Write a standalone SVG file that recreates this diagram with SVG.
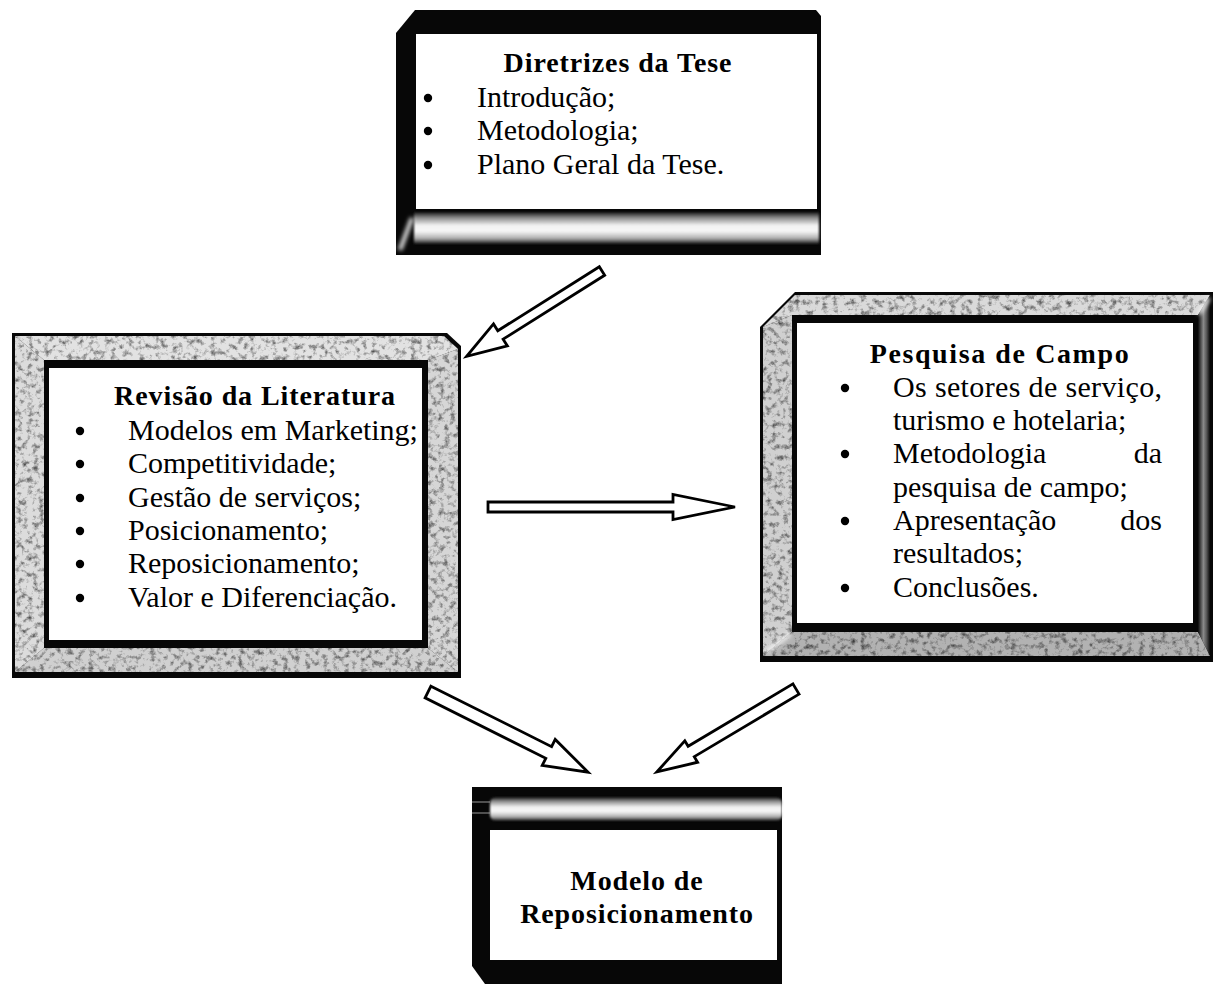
<svg xmlns="http://www.w3.org/2000/svg" width="1217" height="984" viewBox="0 0 1217 984">
  <style>
    .h { font-family: "Liberation Serif", "Times New Roman", serif; font-weight: bold; font-size: 28px; letter-spacing: 0.9px; text-anchor: middle; fill: #000; }
    .b { font-family: "Liberation Serif", "Times New Roman", serif; font-size: 30px; fill: #000; }
    .dot { fill: #000; }
    .frame { fill: #070707; }
    .paper { fill: #fff; }
    .arrow { fill: #fff; stroke: #000; stroke-width: 2.8; stroke-linejoin: miter; }
    .streak { stroke: #f4f4f4; stroke-width: 4; fill: none; }
  </style>
  <defs>
    <!-- mottled stone texture for the bevel bands -->
    <filter id="granite" x="0" y="0" width="100%" height="100%" color-interpolation-filters="sRGB">
      <feTurbulence type="fractalNoise" baseFrequency="0.18" numOctaves="5" seed="11" result="noise"/>
      <feColorMatrix in="noise" type="matrix" values="1.5 0 0 0 0.22  1.5 0 0 0 0.22  1.5 0 0 0 0.22  0 0 0 0 1" result="gray"/>
      <feBlend in="SourceGraphic" in2="gray" mode="multiply" result="mix"/>
      <feComposite in="mix" in2="SourceAlpha" operator="in"/>
    </filter>
    <filter id="soft" x="-10%" y="-30%" width="120%" height="160%">
      <feGaussianBlur stdDeviation="1.2"/>
    </filter>
    <filter id="glow" x="-50%" y="-50%" width="200%" height="200%">
      <feGaussianBlur stdDeviation="2"/>
    </filter>
    <!-- lit cylindrical rim -->
    <linearGradient id="tube" x1="0" y1="0" x2="0" y2="1">
      <stop offset="0" stop-color="#111"/>
      <stop offset="0.18" stop-color="#8c8c8c"/>
      <stop offset="0.42" stop-color="#f2f2f2"/>
      <stop offset="0.6" stop-color="#f6f6f6"/>
      <stop offset="0.82" stop-color="#b0b0b0"/>
      <stop offset="1" stop-color="#111"/>
    </linearGradient>
    <linearGradient id="tubeH" x1="0" y1="0" x2="1" y2="0">
      <stop offset="0" stop-color="#0a0a0a"/>
      <stop offset="0.45" stop-color="#8a8a8a"/>
      <stop offset="0.7" stop-color="#5a5a5a"/>
      <stop offset="1" stop-color="#0a0a0a"/>
    </linearGradient>
  </defs>

  <!-- Diretrizes da Tese -->
  <g id="diretrizes">
    <path class="frame" d="M415,10 H816 L821,16 V255 H396 V33 Z"/>
    <rect class="paper" x="416" y="34" width="401" height="175"/>
    <rect x="414" y="212" width="405" height="32" fill="url(#tube)" filter="url(#soft)"/>
    <line class="streak" x1="400" y1="250" x2="412" y2="218" filter="url(#glow)"/>
    <text class="h" x="618" y="72">Diretrizes da Tese</text>
    <circle class="dot" cx="428" cy="98" r="4.2"/>
    <circle class="dot" cx="428" cy="131" r="4.2"/>
    <circle class="dot" cx="428" cy="165" r="4.2"/>
    <text class="b" x="477" y="107">Introdução;</text>
    <text class="b" x="477" y="140">Metodologia;</text>
    <text class="b" x="477" y="174">Plano Geral da Tese.</text>
  </g>

  <!-- Revisão da Literatura -->
  <g id="revisao">
    <path class="frame" d="M12,333 H447 L461,346 V678 H12 Z"/>
    <g filter="url(#granite)">
      <polygon points="15,336 444,336 458,349 428,360 44,360" fill="#e2e2e2"/>
      <polygon points="15,336 44,360 44,648 15,672" fill="#dcdcdc"/>
      <polygon points="458,349 458,672 428,648 428,360" fill="#d6d6d6"/>
      <polygon points="15,672 44,648 428,648 458,672" fill="#d0d0d0"/>
    </g>
    <rect class="frame" x="44" y="360" width="384" height="288"/>
    <rect class="paper" x="49" y="368" width="373" height="272"/>
    <text class="h" x="255" y="405">Revisão da Literatura</text>
    <circle class="dot" cx="80" cy="431" r="4.2"/>
    <circle class="dot" cx="80" cy="464" r="4.2"/>
    <circle class="dot" cx="80" cy="498" r="4.2"/>
    <circle class="dot" cx="80" cy="531" r="4.2"/>
    <circle class="dot" cx="80" cy="564" r="4.2"/>
    <circle class="dot" cx="80" cy="598" r="4.2"/>
    <text class="b" x="128" y="440">Modelos em Marketing;</text>
    <text class="b" x="128" y="473">Competitividade;</text>
    <text class="b" x="128" y="507">Gestão de serviços;</text>
    <text class="b" x="128" y="540">Posicionamento;</text>
    <text class="b" x="128" y="573">Reposicionamento;</text>
    <text class="b" x="128" y="607">Valor e Diferenciação.</text>
  </g>

  <!-- Pesquisa de Campo -->
  <g id="pesquisa">
    <path class="frame" d="M795,292 H1213 V662 H760 V327 Z"/>
    <g filter="url(#granite)">
      <polygon points="763,327 795,295 1210,295 1198,315 792,315" fill="#dadada"/>
      <polygon points="763,327 792,315 792,632 763,656" fill="#d0d0d0"/>
      <polygon points="763,656 792,632 1198,632 1210,656" fill="#b2b2b2"/>
    </g>
    <polygon points="1198,315 1210,295 1210,656 1198,632" fill="url(#tubeH)"/>
    <rect class="frame" x="792" y="315" width="406" height="317"/>
    <rect class="paper" x="797" y="323" width="396" height="300"/>
    <line class="streak" x1="767" y1="652" x2="790" y2="634" filter="url(#glow)"/>
    <line class="streak" x1="1199" y1="314" x2="1209" y2="298" filter="url(#glow)"/>
    <text class="h" x="1000" y="363" style="letter-spacing:1.6px">Pesquisa de Campo</text>
    <circle class="dot" cx="845" cy="388" r="4.2"/>
    <circle class="dot" cx="845" cy="454" r="4.2"/>
    <circle class="dot" cx="845" cy="521" r="4.2"/>
    <circle class="dot" cx="845" cy="588" r="4.2"/>
    <text class="b" x="893" y="397" textLength="269" lengthAdjust="spacing">Os setores de serviço,</text>
    <text class="b" x="893" y="430">turismo e hotelaria;</text>
    <text class="b" x="893" y="463">Metodologia</text>
    <text class="b" x="1162" y="463" text-anchor="end">da</text>
    <text class="b" x="893" y="497">pesquisa de campo;</text>
    <text class="b" x="893" y="530">Apresentação</text>
    <text class="b" x="1162" y="530" text-anchor="end">dos</text>
    <text class="b" x="893" y="563">resultados;</text>
    <text class="b" x="893" y="597">Conclusões.</text>
  </g>

  <!-- Modelo de Reposicionamento -->
  <g id="modelo">
    <path class="frame" d="M472,787 H782 V984 H485 L472,966 Z"/>
    <rect class="paper" x="490" y="830" width="287" height="130"/>
    <rect x="490" y="797" width="292" height="24" rx="6" fill="url(#tube)" filter="url(#soft)"/>
    <line x1="472" y1="802" x2="490" y2="802" stroke="#9a9a9a" stroke-width="1"/>
    <line x1="472" y1="813" x2="490" y2="813" stroke="#9a9a9a" stroke-width="1"/>
    <text class="h" x="637" y="890">Modelo de</text>
    <text class="h" x="637" y="923">Reposicionamento</text>
  </g>

  <!-- connectors: outlined block arrows -->
  <g id="connectors">
    <path class="arrow" transform="translate(602,271) rotate(147.8)" d="M0,-5 H120 V-13 L160,0 L120,13 V5 H0 Z"/>
    <path class="arrow" transform="translate(488,507)" d="M0,-5 H185 V-12.5 L247,0 L185,12.5 V5 H0 Z"/>
    <path class="arrow" transform="translate(428,692) rotate(26.6)" d="M0,-6.5 H135 V-14.5 L179,0 L135,14.5 V6.5 H0 Z"/>
    <path class="arrow" transform="translate(796,689) rotate(149.2)" d="M0,-6 H122 V-12.5 L162,0 L122,12.5 V6 H0 Z"/>
  </g>
</svg>
